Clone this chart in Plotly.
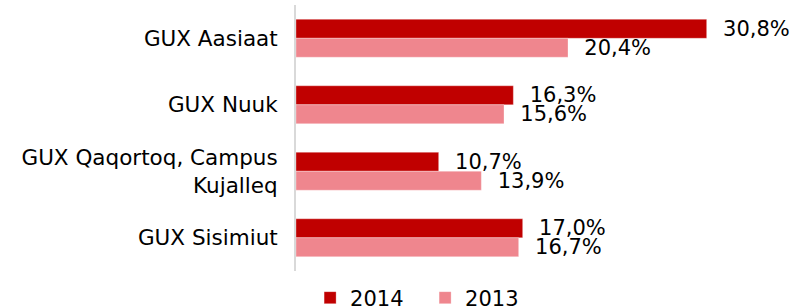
import plotly.graph_objects as go

categories = ["GUX Aasiaat", "GUX Nuuk", "GUX Qaqortoq, Campus<br>Kujalleq", "GUX Sisimiut"]
values_2014 = [30.8, 16.3, 10.7, 17.0]
values_2013 = [20.4, 15.6, 13.9, 16.7]
series_names = ["2014", "2013"]

FONT = "DejaVu Sans"
c2014 = "#C00000"
c2013 = "#EF868E"

fig = go.Figure()
for name, vals, col in [(series_names[0], values_2014, c2014), (series_names[1], values_2013, c2013)]:
    fig.add_trace(go.Bar(
        y=categories, x=vals, name=name, orientation="h",
        marker=dict(color=col, line=dict(color="rgba(255,255,255,0.6)", width=0.5)),
        texttemplate="  %{x:.1f}%", textposition="outside", cliponaxis=False,
        constraintext="none",
        textfont=dict(family=FONT, size=21, color="#000000"),
    ))

fig.update_layout(
    width=812, height=308,
    margin=dict(l=296, r=12, t=5, b=37, autoexpand=False),
    paper_bgcolor="white", plot_bgcolor="white",
    barmode="group", bargap=0.43, bargroupgap=0,
    separators=",.",
    font=dict(family=FONT, size=21, color="#000000"),
    xaxis=dict(range=[0, 37.8], visible=False, showgrid=False, zeroline=False, automargin=False),
    yaxis=dict(autorange="reversed", showline=True, linecolor="#D9D9D9", linewidth=2,
               ticks="", ticklabelstandoff=12, showgrid=False, automargin=False,
               tickfont=dict(family=FONT, size=21.5, color="#000000")),
    legend=dict(orientation="h", x=0.028, xanchor="left", y=-0.1015, yanchor="middle",
                font=dict(family=FONT, size=21, color="#000000"),
                entrywidth=70, entrywidthmode="pixels", bgcolor="rgba(0,0,0,0)"),
    showlegend=True,
)

fig.write_html("out.html", config={"displayModeBar": False},
               post_script="document.body.style.margin='0';document.body.style.overflow='hidden';")
